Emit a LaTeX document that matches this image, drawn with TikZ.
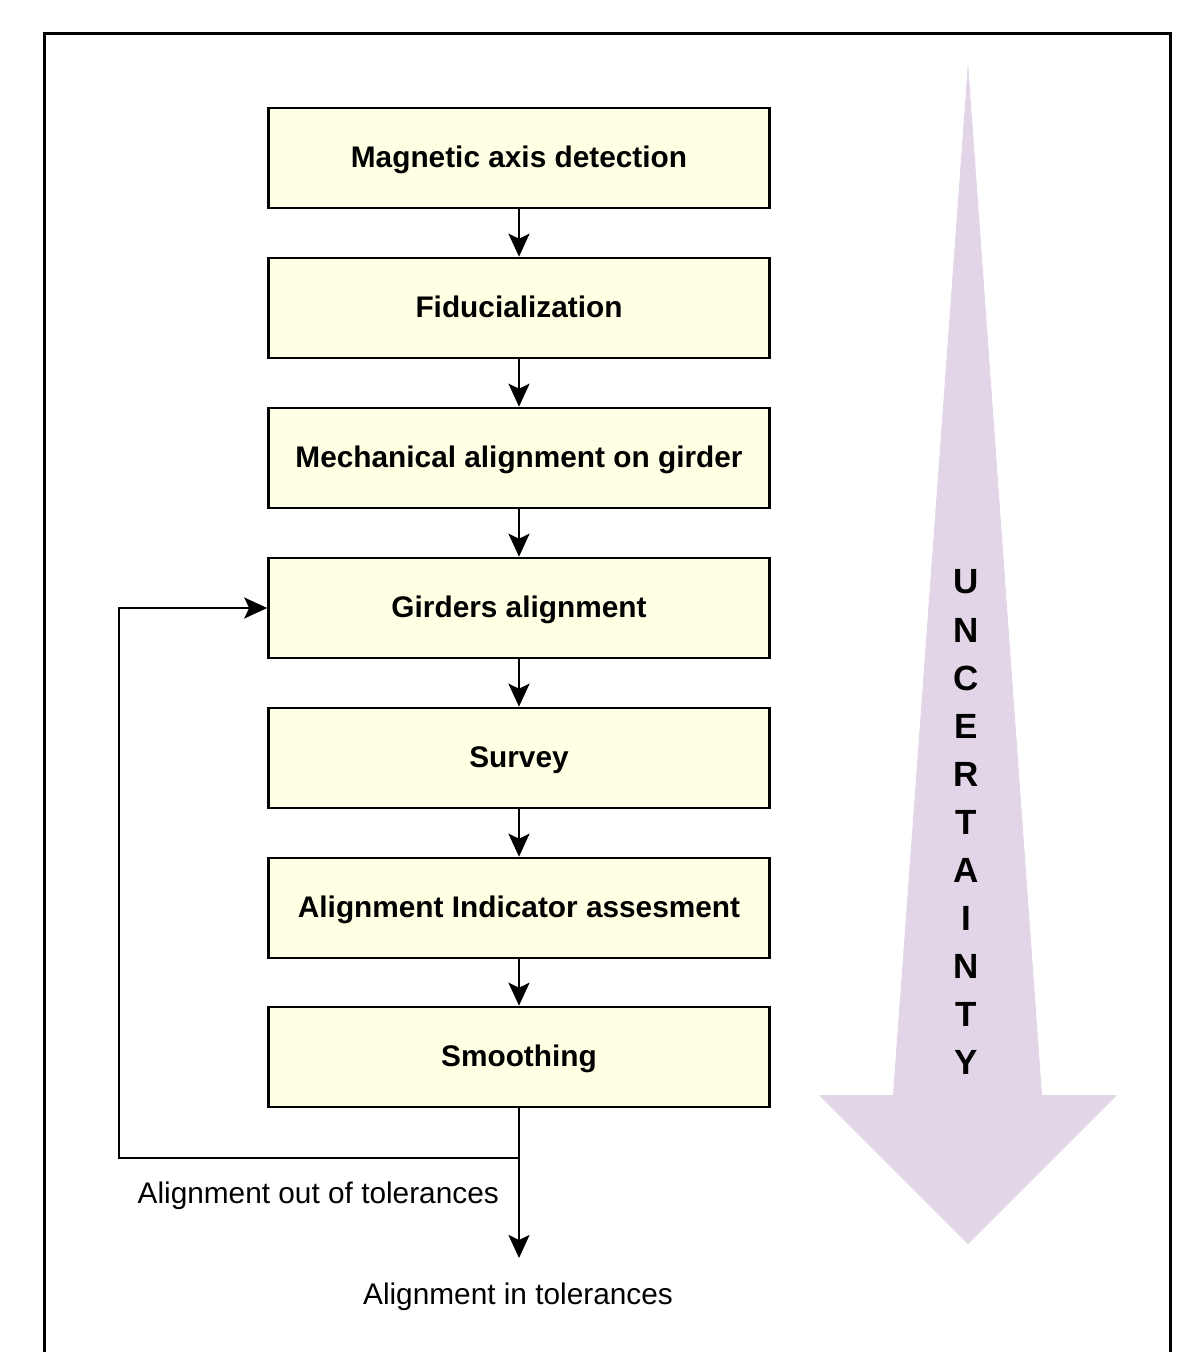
\documentclass[tikz,border=0pt]{standalone}
\usepackage{fontspec}
\setmainfont{Liberation Sans}
\usetikzlibrary{arrows.meta}
\definecolor{boxfill}{HTML}{FFFFE4}
\definecolor{arrowfill}{HTML}{E1D5E7}

\begin{document}
\begin{tikzpicture}[x=1pt, y=-1pt,
  stage/.style={draw, line width=2.6pt, fill=boxfill, minimum width=501pt, minimum height=100pt,
    inner sep=0pt, text height=21pt, text depth=2pt, font=\fontsize{29.8}{34}\selectfont\bfseries},
  flow/.style={line width=2.6pt, -{Stealth[length=23pt, width=21pt, inset=5pt]}},
  note/.style={font=\fontsize{29.8}{34}\selectfont, inner sep=0pt},
  letter/.style={font=\fontsize{35}{38}\selectfont\bfseries, inner sep=0pt}]
  \useasboundingbox (0,0) rectangle (1188,1352);
  % outer frame, open at the bottom
  \draw[line width=3pt] (44,1352) -- (44,33) -- (1170,33) -- (1170,1352);
  % uncertainty arrow
  \fill[arrowfill] (968,63) -- (1042,1095) -- (1117,1095) -- (968,1244)
    -- (819,1095) -- (893,1095) -- cycle;
  \foreach \ch [count=\i] in {U,N,C,E,R,T,A,I,N,T,Y}
    \node[letter] (unc\i) at (966,534+48*\i) {\ch};
  % process steps
  \node[stage] (mad) at (519,158) {Magnetic axis detection};
  \node[stage] (fid) at (519,308) {Fiducialization};
  \node[stage] (mech) at (519,458) {Mechanical alignment on girder};
  \node[stage] (gir) at (519,608) {Girders alignment};
  \node[stage] (sur) at (519,758) {Survey};
  \node[stage] (ind) at (519,908) {Alignment Indicator assesment};
  \node[stage] (smo) at (519,1057) {Smoothing};
  \draw[flow] (mad) -- (fid);
  \draw[flow] (fid) -- (mech);
  \draw[flow] (mech) -- (gir);
  \draw[flow] (gir) -- (sur);
  \draw[flow] (sur) -- (ind);
  \draw[flow] (ind) -- (smo);
  % tolerance check
  \coordinate (split) at (519,1158);
  \coordinate (loop) at (119,1158);
  \coordinate (inEnd) at (519,1258);
  \draw[flow] (smo) -- (split) -- (loop) |- (gir.west);
  \draw[flow] (split) -- (inEnd);
  \node[note, anchor=east] (outTol) at (499,1196) {Alignment out of tolerances};
  \node[note] (inTol) at (518,1297) {Alignment in tolerances};
\end{tikzpicture}
\end{document}
